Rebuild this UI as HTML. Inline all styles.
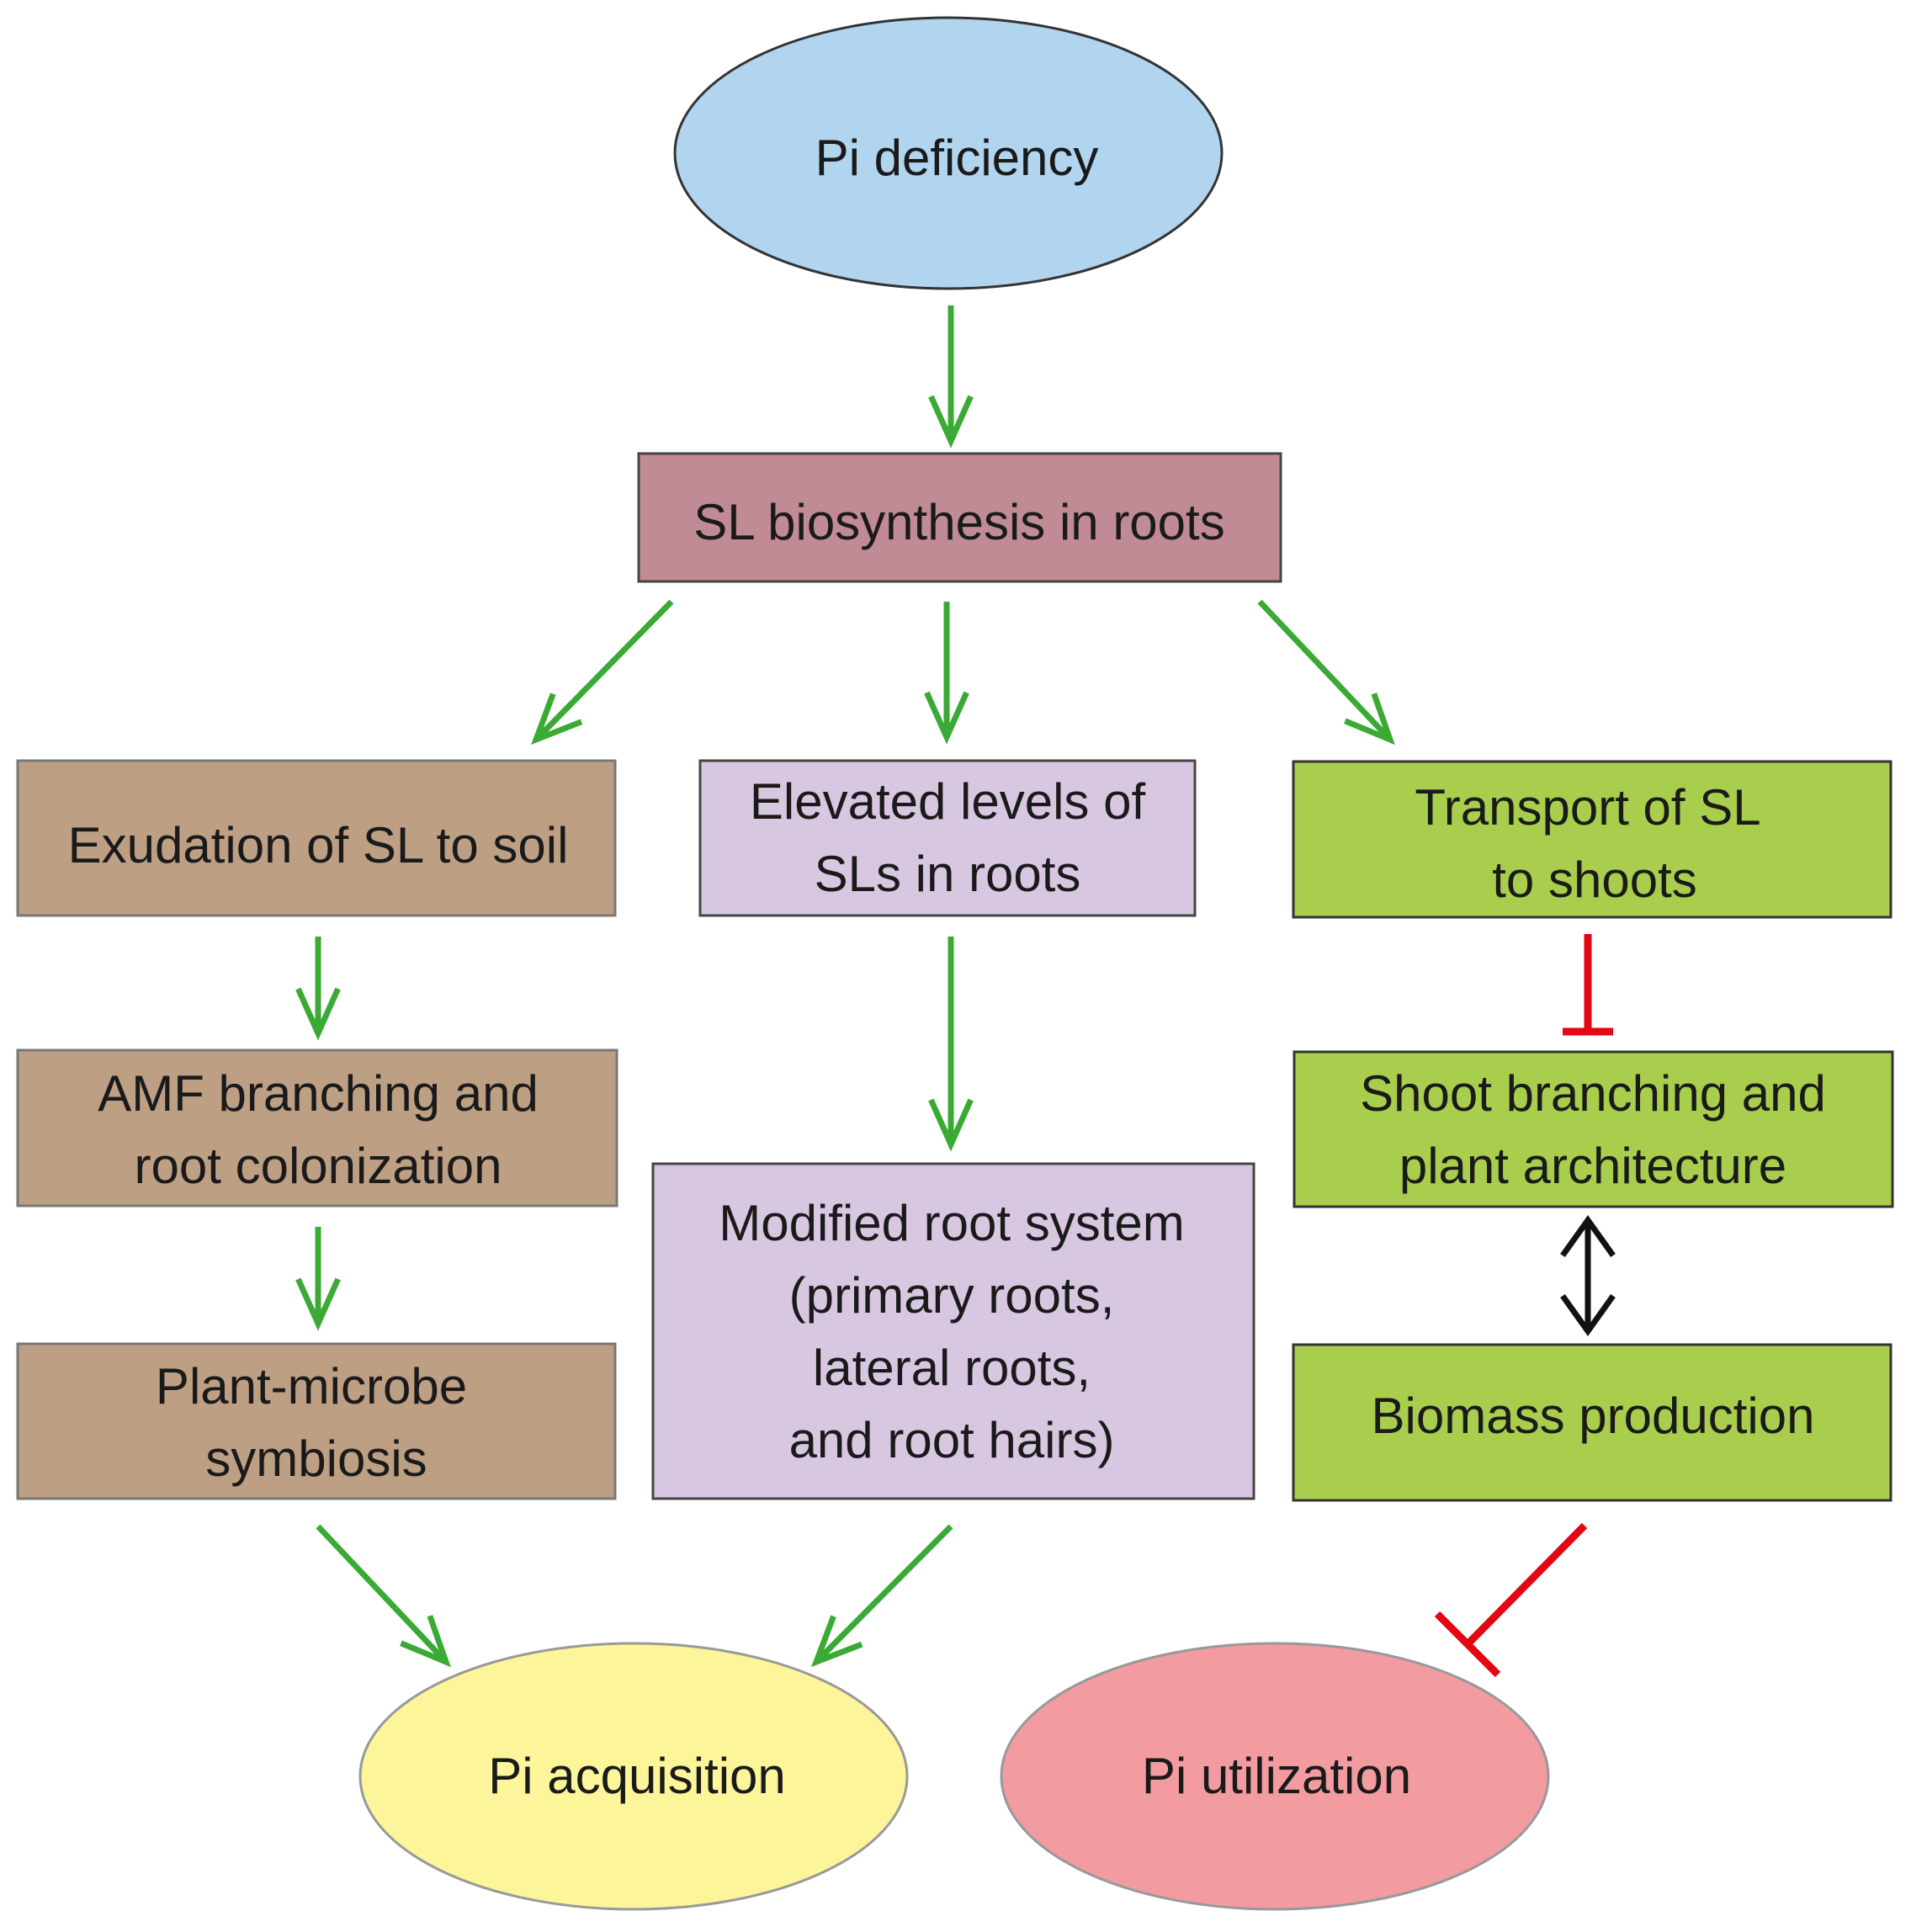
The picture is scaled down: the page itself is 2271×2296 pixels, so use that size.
<!DOCTYPE html>
<html><head><meta charset="utf-8"><style>html,body{margin:0;padding:0;background:#fff}svg{display:block}text{font-family:"Liberation Sans",sans-serif;font-size:60px;fill:#1a1a1a;text-anchor:middle}</style></head>
<body>
<svg width="2271" height="2296" viewBox="0 0 2271 2296" xmlns="http://www.w3.org/2000/svg">
<g stroke-width="3">
<ellipse cx="1127" cy="182" rx="325" ry="161" fill="#b1d4ef" stroke="#333"/>
<rect x="759" y="539" width="763" height="152" fill="#c08b94" stroke="#444"/>
<rect x="21" y="904" width="710" height="184" fill="#bd9f84" stroke="#777"/>
<rect x="832" y="904" width="588" height="184" fill="#d8c7e1" stroke="#444"/>
<rect x="1537" y="905" width="710" height="185" fill="#a9cd4d" stroke="#333"/>
<rect x="21" y="1248" width="712" height="185" fill="#bd9f84" stroke="#777"/>
<rect x="1538" y="1250" width="711" height="184" fill="#a9cd4d" stroke="#333"/>
<rect x="776" y="1383" width="714" height="398" fill="#d8c7e1" stroke="#444"/>
<rect x="21" y="1597" width="710" height="184" fill="#bd9f84" stroke="#777"/>
<rect x="1537" y="1598" width="710" height="185" fill="#a9cd4d" stroke="#333"/>
<ellipse cx="753" cy="2111" rx="325" ry="158" fill="#fcf59a" stroke="#999"/>
<ellipse cx="1515" cy="2111" rx="325" ry="158" fill="#f29ba0" stroke="#999"/>
</g>
<g id="arrows" fill="none" stroke="#3aaa35" stroke-width="7" stroke-linecap="butt"></g>
<g stroke="#e30613" stroke-width="9" fill="none">
<line x1="1887" y1="1110" x2="1887" y2="1226"/>
<line x1="1857" y1="1226" x2="1917" y2="1226"/>
<line x1="1883" y1="1813" x2="1745" y2="1953"/>
<line x1="1708" y1="1918" x2="1780" y2="1990"/>
</g>
<g stroke="#111" stroke-width="7" fill="none">
<line x1="1887" y1="1450" x2="1887" y2="1582"/>
<polyline points="1857,1492 1887,1450 1917,1492"/>
<polyline points="1857,1540 1887,1582 1917,1540"/>
</g>
<text x="1137" y="208">Pi deficiency</text>
<text x="1140" y="641">SL biosynthesis in roots</text>
<text x="378" y="1025">Exudation of SL to soil</text>
<text x="1126" y="973">Elevated levels of</text>
<text x="1126" y="1059">SLs in roots</text>
<text x="1887" y="980">Transport of SL</text>
<text x="1895" y="1066">to shoots</text>
<text x="378" y="1320">AMF branching and</text>
<text x="378" y="1406">root colonization</text>
<text x="1893" y="1320">Shoot branching and</text>
<text x="1893" y="1406">plant architecture</text>
<text x="1131" y="1474">Modified root system</text>
<text x="1131" y="1560">(primary roots,</text>
<text x="1131" y="1646">lateral roots,</text>
<text x="1131" y="1732">and root hairs)</text>
<text x="370" y="1668">Plant-microbe</text>
<text x="376" y="1754">symbiosis</text>
<text x="1893" y="1703">Biomass production</text>
<text x="757" y="2131">Pi acquisition</text>
<text x="1517" y="2131">Pi utilization</text>
<script>
var g=document.getElementById('arrows'),ns='http://www.w3.org/2000/svg';
function ar(x1,y1,x2,y2){var l=document.createElementNS(ns,'line');l.setAttribute('x1',x1);l.setAttribute('y1',y1);l.setAttribute('x2',x2);l.setAttribute('y2',y2);g.appendChild(l);
var a=Math.atan2(y2-y1,x2-x1),L=58,s=0.42,p=document.createElementNS(ns,'polyline');
p.setAttribute('points',(x2-L*Math.cos(a-s))+','+(y2-L*Math.sin(a-s))+' '+x2+','+y2+' '+(x2-L*Math.cos(a+s))+','+(y2-L*Math.sin(a+s)));g.appendChild(p);}
ar(1130,363,1130,524);
ar(798,715,637,879);
ar(1125,715,1125,876);
ar(1497,715,1652,879);
ar(378,1113,378,1228);
ar(1130,1113,1130,1360);
ar(378,1458,378,1573);
ar(378,1814,530,1975);
ar(1130,1814,970,1975);
</script>
</svg>
</body></html>
